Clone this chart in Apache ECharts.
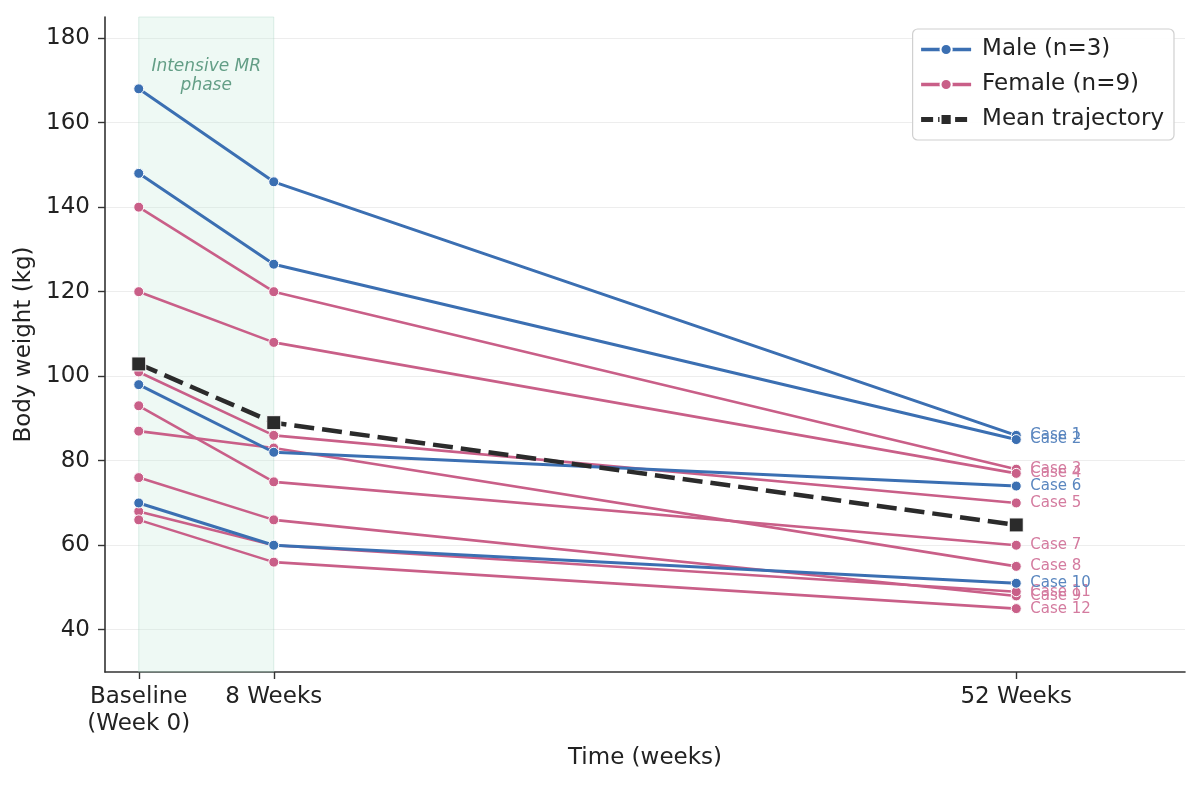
<!DOCTYPE html>
<html>
<head>
<meta charset="utf-8">
<script src="https://cdn.jsdelivr.net/npm/echarts@6/dist/echarts.min.js"></script>
<style>
html,body{margin:0;padding:0;background:#fff;}
#chart{width:1200px;height:785px;}
</style>
</head>
<body>
<div id="chart"></div>
<script>
// ---- data ----
const weeks = [0, 8, 52];
const xTickLabels = ['Baseline\n(Week 0)', '8 Weeks', '52 Weeks'];
const yTicks = [40, 60, 80, 100, 120, 140, 160, 180];
const caseNames = ['Case 1','Case 2','Case 3','Case 4','Case 5','Case 6','Case 7','Case 8','Case 9','Case 10','Case 11','Case 12'];
const caseSex = ['M','M','F','F','F','M','F','F','F','M','F','F'];
const baseline = [168, 148, 140, 120, 101, 98, 93, 87, 76, 70, 68, 66];
const week8 = [146, 126.5, 120, 108, 86, 82, 75, 83, 66, 60, 60, 56];
const week52 = [86, 85, 78, 77, 70, 74, 60, 55, 48, 51, 49, 45];
const meanTrajectory = [102.9, 89.0, 64.8];
const legendNames = ['Male (n=3)', 'Female (n=9)', 'Mean trajectory'];
const phaseStart = 0, phaseEnd = 8;
const phaseLabel = 'Intensive MR\nphase';

// ---- styles ----
const BLUE = '#3b6fb2';
const PINK = '#c95f88';
const BLUE_LBL = '#5a86bf';
const PINK_LBL = '#d47b9f';
const DARK = '#2b2b2b';
const FONT = 'DejaVu Sans';

const series = [];

// shaded phase area
series.push({
  type: 'line', name: '__phase', data: [], silent: true, z: 0,
  markArea: {
    silent: true,
    itemStyle: { color: 'rgba(195,232,216,0.28)', borderColor: 'rgba(160,210,188,0.35)', borderWidth: 1 },
    label: {
      show: true, position: 'insideTop', distance: 41,
      formatter: phaseLabel, fontFamily: FONT, fontStyle: 'italic',
      fontSize: 17, lineHeight: 19, color: '#639e86', align: 'center'
    },
    data: [[{ xAxis: phaseStart }, { xAxis: phaseEnd }]]
  }
});

// legend dummies
series.push({
  type: 'line', name: legendNames[0], data: [],
  symbol: 'circle', symbolSize: 10,
  lineStyle: { color: BLUE, width: 3 },
  itemStyle: { color: BLUE, borderColor: '#fff', borderWidth: 1 }
});
series.push({
  type: 'line', name: legendNames[1], data: [],
  symbol: 'circle', symbolSize: 10,
  lineStyle: { color: PINK, width: 2.6 },
  itemStyle: { color: PINK, borderColor: '#fff', borderWidth: 1 }
});

caseNames.forEach((nm, i) => {
  const male = caseSex[i] === 'M';
  const c = male ? BLUE : PINK;
  series.push({
    type: 'line', name: nm,
    data: weeks.map((w, k) => [w, [baseline[i], week8[i], week52[i]][k]]),
    symbol: 'circle', symbolSize: 10, showSymbol: true,
    z: male ? 3 : 2,
    lineStyle: { color: c, width: male ? 3 : 2.6 },
    itemStyle: { color: c, borderColor: '#fff', borderWidth: 1 },
    endLabel: {
      show: true, formatter: '{a}', distance: 14,
      fontFamily: FONT, fontSize: 15, color: male ? BLUE_LBL : PINK_LBL
    },
    emphasis: { disabled: true }
  });
});

series.push({
  type: 'line', name: legendNames[2],
  data: weeks.map((w, k) => [w, meanTrajectory[k]]),
  symbol: 'rect', symbolSize: 14, z: 5,
  lineStyle: { color: DARK, width: 4.5, type: [20, 8] },
  itemStyle: { color: DARK, borderColor: '#fff', borderWidth: 1 },
  emphasis: { disabled: true }
});

const chart = echarts.init(document.getElementById('chart'), null, { renderer: 'canvas' });
chart.setOption({
  animation: false,
  backgroundColor: '#fff',
  textStyle: { fontFamily: FONT },
  grid: { left: 105, right: 15, top: 17, bottom: 113, containLabel: false },
  legend: {
    data: [
      { name: legendNames[0], itemStyle: { color: BLUE }, lineStyle: { width: 3.5, color: BLUE } },
      { name: legendNames[1], itemStyle: { color: PINK }, lineStyle: { width: 3.5, color: PINK } },
      { name: legendNames[2], itemStyle: { color: DARK }, lineStyle: { width: 5, color: DARK, type: [12, 5] } }
    ],
    orient: 'vertical', right: 26, top: 29,
    itemWidth: 50, itemHeight: 14, itemGap: 12,
    padding: [9, 10, 9, 6],
    borderColor: '#d0d0d0', borderWidth: 1.2, borderRadius: 5,
    backgroundColor: 'rgba(255,255,255,0.9)',
    textStyle: { fontFamily: FONT, fontSize: 23, color: '#222', padding: [0, 0, 0, 6] }
  },
  xAxis: {
    type: 'value', min: -2, max: 62,
    name: 'Time (weeks)', nameLocation: 'middle', nameGap: 75,
    nameTextStyle: { fontFamily: FONT, fontSize: 23, color: '#222' },
    axisLine: { show: true, onZero: false, lineStyle: { color: '#333', width: 1.6 } },
    axisTick: { show: true, length: 7, customValues: weeks, lineStyle: { color: '#333', width: 1.4 } },
    axisLabel: {
      customValues: weeks, margin: 12,
      fontFamily: FONT, fontSize: 23, color: '#222', lineHeight: 27,
      formatter: v => xTickLabels[weeks.indexOf(v)] || ''
    },
    splitLine: { show: false }
  },
  yAxis: {
    type: 'value', min: 30, max: 185,
    name: 'Body weight (kg)', nameLocation: 'middle', nameGap: 63,
    nameTextStyle: { fontFamily: FONT, fontSize: 23, color: '#222' },
    axisLine: { show: true, onZero: false, lineStyle: { color: '#333', width: 1.6 } },
    axisTick: { show: true, length: 7, customValues: yTicks, lineStyle: { color: '#333', width: 1.4 } },
    axisLabel: { customValues: yTicks, margin: 15, fontFamily: FONT, fontSize: 23, color: '#222' },
    splitLine: { show: true, lineStyle: { color: '#ededed', width: 1 } }
  },
  series: series
});
</script>
</body>
</html>
